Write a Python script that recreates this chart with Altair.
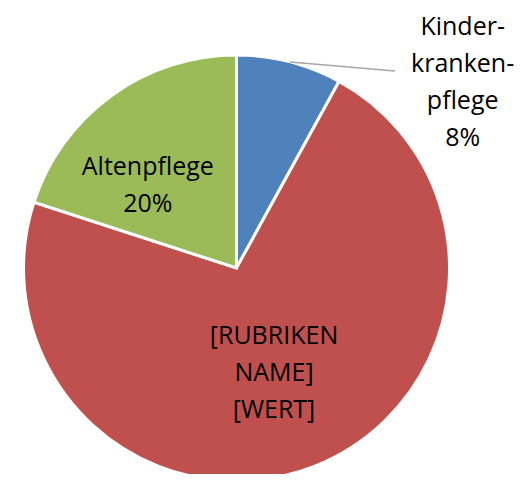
import altair as alt
import pandas as pd

categories = ["Kinderkrankenpflege", "[RUBRIKEN NAME]", "Altenpflege"]
values = [8, 72, 20]
label_lines = [["Kinder-", "kranken-", "pflege", "8%"], ["[RUBRIKEN", "NAME]", "[WERT]"], ["Altenpflege", "20%"]]
colors = ["#4F81BD", "#C0504D", "#9BBB59"]

# label placement (radius from centre, pixel nudges)
label_radius = [250, 110, 122]
label_dx = [164, -3, -17]
label_dy = [1, -34, -2]

df = pd.DataFrame({
    "category": categories,
    "value": values,
    "ord": list(range(len(categories))),
    "label": ["\n".join(l) for l in label_lines],
})

CX, CY, R = 228.5, 260, 213
FONT = "Open Sans"

base = alt.Chart(df).transform_window(
    cum="sum(value)", sort=[alt.SortField("ord")]
).transform_calculate(mid="datum.cum - datum.value / 2")

theta_scale = alt.Scale(domain=[0, sum(values)])

arcs = alt.Chart(df).mark_arc(outerRadius=R, stroke="white", strokeWidth=3).encode(
    theta=alt.Theta("value:Q", stack=True, scale=theta_scale),
    color=alt.Color("category:N", scale=alt.Scale(domain=categories, range=colors), legend=None),
    order=alt.Order("ord:Q"),
    x=alt.value(CX),
    y=alt.value(CY),
)

layers = [arcs]
for i, cat in enumerate(categories):
    t = base.transform_filter(alt.datum.category == cat).mark_text(
        radius=label_radius[i], dx=label_dx[i], dy=label_dy[i],
        font=FONT, fontSize=25, color="black", lineBreak="\n", lineHeight=37,
        align="center", baseline="middle",
    ).encode(
        theta=alt.Theta("mid:Q", stack=None, scale=theta_scale),
        text="label:N",
        x=alt.value(CX),
        y=alt.value(CY),
    )
    layers.append(t)

leader = alt.Chart(df).mark_rule(color="#A6A6A6", strokeWidth=1.5).encode(
    x=alt.value(282), y=alt.value(54), x2=alt.value(387), y2=alt.value(63)
).transform_filter(alt.datum.ord == 0)
layers.insert(1, leader)

chart = alt.layer(*layers).properties(
    width=513, height=466, padding=0, autosize=alt.AutoSizeParams(type="none")
).configure_view(stroke=None)

chart.save("out.html", embed_options={"renderer": "svg", "actions": False})
